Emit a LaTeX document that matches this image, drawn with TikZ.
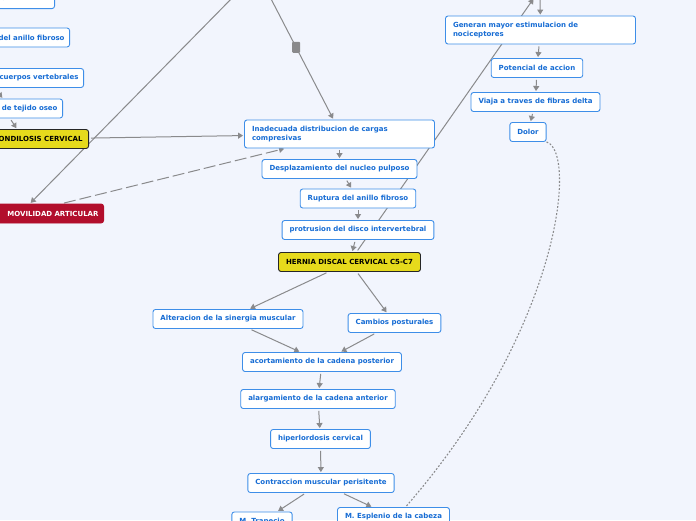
\documentclass[tikz,border=0pt]{standalone}
\usepackage{fontspec}
\setmainfont{DejaVu Sans}
\usetikzlibrary{arrows.meta,backgrounds,calc}

\definecolor{pageBg}{RGB}{242,245,253}
\definecolor{ideaBlue}{RGB}{62,142,232}
\definecolor{textBlue}{RGB}{22,108,212}
\definecolor{mainYellow}{RGB}{230,218,28}
\definecolor{alertRed}{RGB}{178,14,44}
\definecolor{lineGray}{RGB}{138,138,140}

\begin{document}
\begin{tikzpicture}[
  x=1pt, y=-1pt,
  idea/.style={rectangle, draw=ideaBlue, fill=white, rounded corners=2.5pt, line width=0.9pt, text=textBlue, font=\fontsize{7}{9.2}\selectfont\bfseries, inner xsep=7.5pt, inner ysep=2pt, minimum height=19pt},
  main/.style={idea, draw=black!85, fill=mainYellow, text=black},
  alert/.style={idea, draw=alertRed, fill=alertRed, text=white},
  cut/.style={text width=#1, align=right, anchor=east, inner xsep=5pt},
  arrow/.style={-{Triangle[length=5pt,width=6pt]}, line width=1pt, draw=lineGray, shorten <=2pt, shorten >=1pt},
  link/.style={line width=1pt, draw=lineGray},
  marker/.style={rectangle, fill=lineGray, rounded corners=1pt, minimum width=8pt, minimum height=11pt, inner sep=0pt},
]
\useasboundingbox (0,0) rectangle (696,520);

% === Left column (cut at the edge) ===
\node[idea, text width=50pt, align=left, anchor=south east] (agua) at (55,9) {ua};
\node[idea, cut=120pt] (anillo) at (70,37.5) {del anillo fibroso};
\node[idea, cut=120pt] (cuerpos) at (84,78) {cuerpos vertebrales};
\node[idea, cut=120pt] (tejido) at (63,108.5) {de tejido oseo};
\node[main, anchor=east, inner xsep=6pt] (espon) at (89,139) {ESPONDILOSIS CERVICAL};
\node[alert, cut=150pt] (movil) at (104,213.5) {MOVILIDAD ARTICULAR};

% === Central chain ===
\node[idea, text width=175pt, align=left, minimum height=28pt] (inad) at (339.5,134) {Inadecuada distribucion de cargas\\compresivas};
\node[idea] (despl) at (339.5,169) {Desplazamiento del nucleo pulposo};
\node[idea] (ruptura) at (358,198.5) {Ruptura del anillo fibroso};
\node[idea] (protru) at (358,230) {protrusion del disco intervertebral};
\node[main] (hernia) at (349.5,262) {HERNIA DISCAL CERVICAL C5-C7};
\node[idea] (sinerg) at (228,319) {Alteracion de la sinergia muscular};
\node[idea] (cambios) at (394.5,323) {Cambios posturales};
\node[idea] (acort) at (322,362) {acortamiento de la cadena posterior};
\node[idea] (alarg) at (318,399) {alargamiento de la cadena anterior};
\node[idea] (hiper) at (320.5,439) {hiperlordosis cervical};
\node[idea] (contr) at (321,483) {Contraccion muscular perisitente};
\node[idea] (trapecio) at (262,521.5) {M. Trapecio};
\node[idea] (esplenio) at (393.5,517) {M. Esplenio de la cabeza};

% === Right column ===
\node[idea, text width=175pt, align=left, minimum height=28pt] (generan) at (540.5,30) {Generan mayor estimulacion de\\nociceptores};
\node[idea] (potencial) at (537,68) {Potencial de accion};
\node[idea] (viaja) at (535.5,102) {Viaja a traves de fibras delta};
\node[idea] (dolor) at (528,132) {Dolor};

% === Points beyond the top edge ===
\coordinate (topA) at (236,-6);
\coordinate (topB) at (269,-5);
\coordinate (topC) at (534,-2);
\coordinate (topD) at (540,-6);

\begin{scope}[on background layer]
\fill[pageBg] (0,0) rectangle (696,520);

% left column
\draw[arrow] ([xshift=-78pt]anillo.south east) -- ([xshift=-86pt]cuerpos.north east);
\draw[arrow] ([xshift=-90pt]cuerpos.south east) -- ([xshift=-60pt]tejido.north east);
\draw[arrow] ([xshift=-53pt]tejido.south east) -- ([xshift=-72pt]espon.north east);
\draw[arrow] (espon) -- (inad);
\draw[arrow, dash pattern=on 12pt off 4pt] ([xshift=-42pt]movil.north east) -- ([xshift=41pt]inad.south west);
\draw[arrow] (topA) -- ([xshift=-74pt]movil.north east);
\draw[arrow] (topB) -- node[marker, pos=0.42] (mark) {} ([xshift=-6pt]inad.north);

% central chain
\draw[arrow] (inad) -- (despl);
\draw[arrow] (despl) -- (ruptura);
\draw[arrow] (ruptura) -- (protru);
\draw[arrow] (protru) -- (hernia);
\draw[arrow] ([xshift=7pt]hernia.north) -- (topC);
\draw[arrow] (hernia) -- (sinerg);
\draw[arrow] (hernia) -- (cambios);
\draw[arrow] (sinerg) -- (acort);
\draw[arrow] (cambios) -- (acort);
\draw[arrow] (acort) -- (alarg);
\draw[arrow] (alarg) -- (hiper);
\draw[arrow] (hiper) -- (contr);
\draw[arrow] (contr) -- (trapecio);
\draw[arrow] (contr) -- (esplenio);

% right column
\draw[arrow] (topD) -- (generan);
\draw[arrow] (generan) -- (potencial);
\draw[arrow] (potencial) -- (viaja);
\draw[arrow] (viaja) -- (dolor);
\draw[link, line width=1.1pt, dash pattern=on 1.8pt off 1.8pt] (dolor.south east) .. controls (578,152) and (560,330) .. ([xshift=12pt]esplenio.north);
\end{scope}
\end{tikzpicture}
\end{document}
